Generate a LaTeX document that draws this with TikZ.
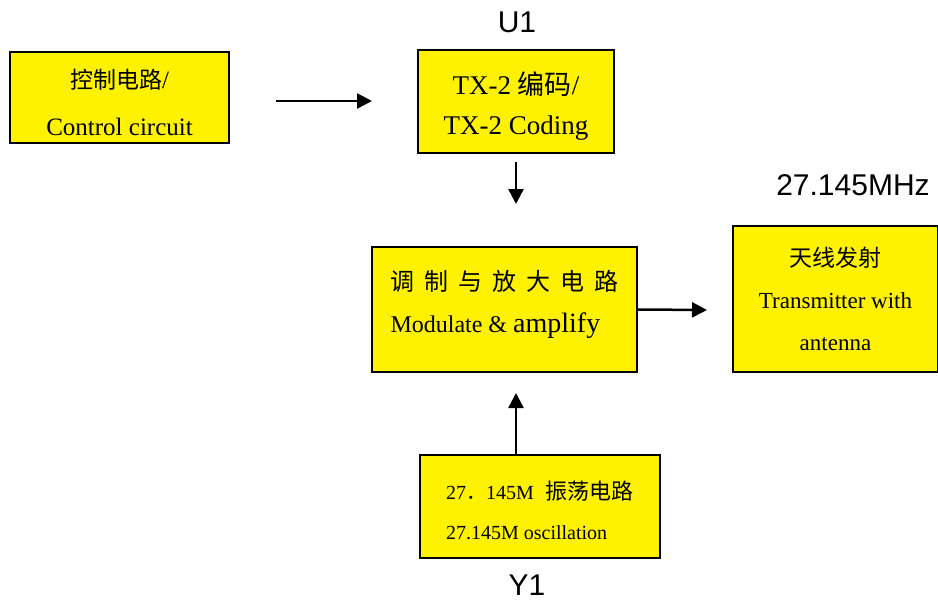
\documentclass[tikz,border=0pt]{standalone}
\usepackage{fontspec}
\setmainfont{Liberation Serif}
\newfontfamily\cjk{Noto Sans CJK SC}
\newfontfamily\arial{Liberation Sans}
\usetikzlibrary{arrows.meta}

\begin{document}
\begin{tikzpicture}[
    x = 1pt, y = -1pt,
    vector/.style = {line width=2.5pt,-{Triangle[length=15pt,width=15pt]}},
    block/.style = {draw, line width=1.5pt, fill=yellow, inner sep=0pt},
    tag/.style = {font=\arial\fontsize{30}{30}\selectfont}
    ]
    \useasboundingbox (0,0) rectangle (938,600);
    \node[block, minimum width=219pt, minimum height=91pt, align=center,
      font=\fontsize{25}{47}\selectfont] (ctrl) at (119.5,97.5)
      {\rule{0pt}{30pt}{\cjk\fontsize{23}{47}\selectfont 控制电路}/\\Control circuit};
    \node[block, minimum width=196pt, minimum height=103pt, align=center,
      font=\fontsize{27}{40}\selectfont] (code) at (516,101.5)
      {\rule{0pt}{32pt}TX-2 {\cjk 编码}/\\TX-2 Coding};
    \node[block, minimum width=265pt, minimum height=125pt, align=left,
      font=\fontsize{24}{42}\selectfont] (mod) at (504.5,309.5)
      {{\cjk 调\hspace{10pt}制\hspace{10pt}与\hspace{10pt}放\hspace{10pt}大\hspace{10pt}电\hspace{10pt}路}\\
       Modulate \& {\fontsize{28}{42}\selectfont amplify}\rule[-16pt]{0pt}{0pt}};
    \node[block, minimum width=205pt, minimum height=146pt, align=center,
      font=\fontsize{23}{42}\selectfont] (ant) at (835.5,299)
      {{\cjk 天线发射}\\Transmitter with\\antenna};
    \node[block, minimum width=240pt, minimum height=103pt, align=left,
      font=\fontsize{20}{40}\selectfont] (osc) at (540,506.5)
      {\rule{0pt}{26pt}27{\cjk ．}145M\hspace{12pt}{\cjk\fontsize{22}{40}\selectfont 振荡电路}\\27.145M oscillation};
    % labels
    \node[tag] (u1) at (517,22) {U1};
    \node[tag] (freq) at (853,185) {27.145MHz};
    \node[tag] (y1) at (527,585) {Y1};
    % arrows
    \coordinate (a1) at (276,101);
    \coordinate (b1) at (372,101);
    \coordinate (a2) at (516,162);
    \coordinate (b2) at (516,204);
    \coordinate (b3) at (707,310);
    \coordinate (a4) at (516,455);
    \coordinate (b4) at (516,393);
    \draw[vector] (a1) -- (b1);
    \draw[vector] (a2) -- (b2);
    \draw[vector] (mod.east) -- (b3);
    \draw[vector] (a4) -- (b4);
\end{tikzpicture}
\end{document}
